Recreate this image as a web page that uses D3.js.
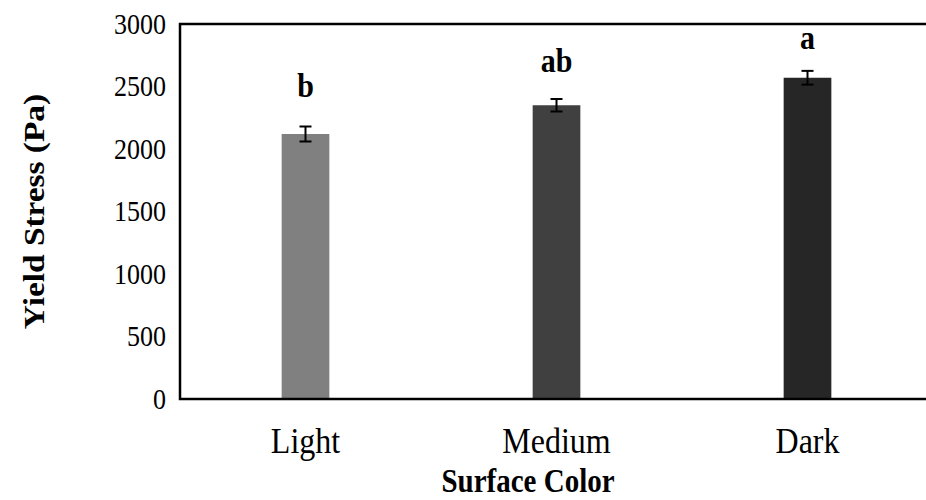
<!DOCTYPE html>
<html lang="en">
<head>
    <meta charset="UTF-8">
    <title>Yield Stress</title>
    <style>
        body { margin: 0; background: #fff; }
        svg { display: block; }
        text { font-family: "Liberation Serif", "Times New Roman", serif; fill: #000; }
    </style>
    <script src="https://d3js.org/d3.v7.min.js"></script>
</head>
<body>
    <div id="chart"></div>
    <script>
        // data
        const categories = ["Light", "Medium", "Dark"]
        const yieldStress = [2120, 2350, 2570]
        const errors = [60, 50, 55]
        const letters = ["b", "ab", "a"]
        const letterLevel = [2415, 2615, 2800]   // baseline of each letter, in Pa
        const barColors = ["#808080", "#404040", "#262626"]
        const yTicks = [0, 500, 1000, 1500, 2000, 2500, 3000]

        const W = 926, H = 500
        const margin = {top: 24, right: -7, bottom: 101, left: 180}
        const width = W - margin.left - margin.right,
              height = H - margin.top - margin.bottom
        // the source picture is a little taller than wide, so text is stretched
        const stretch = 1.15

        const svg = d3.select("#chart")
            .append("svg")
            .attr("width", W)
            .attr("height", H)

        const g = svg.append("g")
            .attr("transform", `translate(${margin.left},${margin.top})`)

        const x = d3.scaleBand()
            .domain(categories)
            .range([0, width])
            .paddingInner(0.81)
            .paddingOuter(0.405)

        const y = d3.scaleLinear()
            .domain([0, 3000])
            .range([height, 0])

        // y axis labels only, no tick lines
        const yAxis = g.append("g")
            .call(d3.axisLeft(y).tickValues(yTicks).tickFormat(d3.format("d")).tickSize(0))
        yAxis.select(".domain").remove()
        yAxis.selectAll("text")
            .attr("x", 0).attr("dy", null)
            .attr("transform", `translate(-14,9) scale(1,${stretch})`)
            .style("font-size", "26px")
            .style("font-family", "Liberation Serif, serif")

        // x axis labels
        const xAxis = g.append("g")
            .attr("transform", `translate(0,${height})`)
            .call(d3.axisBottom(x).tickSize(0))
        xAxis.select(".domain").remove()
        xAxis.selectAll("text")
            .attr("y", 0).attr("dy", null)
            .attr("transform", `translate(0,54) scale(1,${stretch})`)
            .style("font-size", "32px")
            .style("font-family", "Liberation Serif, serif")

        // bars
        const data = categories.map((c, i) => ({cat: c, v: yieldStress[i], e: errors[i], l: letters[i], ly: letterLevel[i], col: barColors[i]}))

        g.selectAll(".bar")
            .data(data)
            .join("rect")
            .attr("class", "bar")
            .attr("x", d => x(d.cat))
            .attr("y", d => y(d.v))
            .attr("width", x.bandwidth())
            .attr("height", d => height - y(d.v))
            .attr("fill", d => d.col)

        // error bars
        const eb = g.selectAll(".err")
            .data(data)
            .join("g")
            .attr("class", "err")
            .attr("stroke", "#000")
            .attr("stroke-width", 2)
        eb.append("line")
            .attr("x1", d => x(d.cat) + x.bandwidth() / 2)
            .attr("x2", d => x(d.cat) + x.bandwidth() / 2)
            .attr("y1", d => y(d.v + d.e))
            .attr("y2", d => y(d.v - d.e))
        eb.append("line")
            .attr("x1", d => x(d.cat) + x.bandwidth() / 2 - 6)
            .attr("x2", d => x(d.cat) + x.bandwidth() / 2 + 6)
            .attr("y1", d => y(d.v + d.e))
            .attr("y2", d => y(d.v + d.e))
        eb.append("line")
            .attr("x1", d => x(d.cat) + x.bandwidth() / 2 - 6)
            .attr("x2", d => x(d.cat) + x.bandwidth() / 2 + 6)
            .attr("y1", d => y(d.v - d.e))
            .attr("y2", d => y(d.v - d.e))

        // significance letters
        g.selectAll(".sig")
            .data(data)
            .join("text")
            .attr("class", "sig")
            .attr("text-anchor", "middle")
            .attr("transform", d => `translate(${x(d.cat) + x.bandwidth() / 2},${y(d.ly)}) scale(1,${stretch})`)
            .style("font-size", "30px")
            .style("font-weight", "bold")
            .text(d => d.l)

        // plot frame
        g.append("rect")
            .attr("x", 0)
            .attr("y", 0)
            .attr("width", width)
            .attr("height", height)
            .attr("fill", "none")
            .attr("stroke", "#000")
            .attr("stroke-width", 2.5)

        // axis titles
        svg.append("text")
            .attr("text-anchor", "middle")
            .attr("transform", `translate(528,492) scale(1,${stretch})`)
            .style("font-size", "29px")
            .style("font-weight", "bold")
            .text("Surface Color")

        svg.append("text")
            .attr("text-anchor", "middle")
            .attr("transform", `translate(44,${margin.top + height / 2}) scale(1,${stretch}) rotate(-90)`)
            .style("font-size", "29px")
            .style("font-weight", "bold")
            .text("Yield Stress (Pa)")
    </script>
</body>
</html>
